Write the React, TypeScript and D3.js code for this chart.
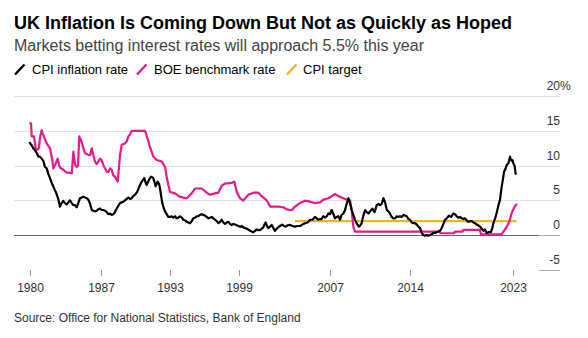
import React from 'react';
import * as d3 from 'd3';

const cpiYears = [
  1980.69, 1980.9, 1981.04, 1981.19, 1981.34, 1981.48, 1981.62, 1981.77, 1981.91, 1982.06,
  1982.21, 1982.35, 1982.5, 1982.65, 1982.79, 1982.94, 1983.08, 1983.22, 1983.37, 1983.52,
  1983.66, 1983.81, 1983.96, 1984.1, 1984.25, 1984.4, 1984.54, 1984.69, 1984.83, 1984.97,
  1985.12, 1985.27, 1985.41, 1985.56, 1985.71, 1985.85, 1986.0, 1986.15, 1986.29, 1986.43,
  1986.58, 1986.72, 1986.87, 1987.02, 1987.16, 1987.31, 1987.46, 1987.6, 1987.75, 1987.89,
  1988.03, 1988.18, 1988.33, 1988.47, 1988.62, 1988.77, 1988.91, 1989.06, 1989.21, 1989.35,
  1989.5, 1989.64, 1989.78, 1989.93, 1990.08, 1990.22, 1990.37, 1990.52, 1990.66, 1990.74,
  1990.85, 1990.95, 1991.09, 1991.24, 1991.33, 1991.45, 1991.53, 1991.64, 1991.74, 1991.91,
  1992.03, 1992.12, 1992.2, 1992.32, 1992.42, 1992.56, 1992.7, 1992.85, 1993.0, 1993.14,
  1993.28, 1993.43, 1993.58, 1993.72, 1993.87, 1994.02, 1994.16, 1994.31, 1994.45, 1994.6,
  1994.74, 1994.89, 1995.03, 1995.18, 1995.33, 1995.47, 1995.62, 1995.77, 1995.91, 1996.05,
  1996.2, 1996.34, 1996.49, 1996.64, 1996.78, 1996.93, 1997.08, 1997.22, 1997.37, 1997.51,
  1997.66, 1997.8, 1997.95, 1998.09, 1998.24, 1998.39, 1998.53, 1998.68, 1998.83, 1998.97,
  1999.11, 1999.26, 1999.4, 1999.55, 1999.7, 1999.84, 1999.99, 2000.13, 2000.28, 2000.43,
  2000.57, 2000.72, 2000.86, 2001.01, 2001.15, 2001.25, 2001.36, 2001.47, 2001.59, 2001.74,
  2001.89, 2002.03, 2002.17, 2002.32, 2002.46, 2002.61, 2002.81, 2002.96, 2003.11, 2003.27,
  2003.49, 2003.71, 2003.92, 2004.14, 2004.36, 2004.57, 2004.8, 2005.02, 2005.24, 2005.46,
  2005.67, 2005.82, 2005.96, 2006.11, 2006.25, 2006.4, 2006.55, 2006.7, 2006.84, 2006.99,
  2007.13, 2007.28, 2007.42, 2007.57, 2007.71, 2007.86, 2008.0, 2008.15, 2008.3, 2008.44,
  2008.59, 2008.73, 2008.88, 2009.02, 2009.17, 2009.34, 2009.52, 2009.64, 2009.75, 2009.9,
  2010.05, 2010.19, 2010.34, 2010.48, 2010.69, 2010.88, 2011.07, 2011.22, 2011.36, 2011.51,
  2011.65, 2011.8, 2011.95, 2012.09, 2012.23, 2012.38, 2012.52, 2012.67, 2012.82, 2012.96,
  2013.11, 2013.25, 2013.4, 2013.54, 2013.69, 2013.84, 2013.98, 2014.13, 2014.27, 2014.42,
  2014.57, 2014.71, 2014.86, 2015.0, 2015.14, 2015.29, 2015.43, 2015.58, 2015.73, 2015.87,
  2016.02, 2016.17, 2016.31, 2016.46, 2016.61, 2016.75, 2016.9, 2017.04, 2017.19, 2017.39,
  2017.57, 2017.77, 2017.91, 2018.06, 2018.2, 2018.35, 2018.5, 2018.64, 2018.79, 2018.94,
  2019.08, 2019.23, 2019.37, 2019.52, 2019.66, 2019.81, 2019.95, 2020.1, 2020.25, 2020.4,
  2020.54, 2020.69, 2020.83, 2021.04, 2021.16, 2021.27, 2021.42, 2021.56, 2021.7, 2021.85,
  2022.0, 2022.12, 2022.2, 2022.32, 2022.44, 2022.58, 2022.73, 2022.81, 2022.87, 2022.94,
  2023.02, 2023.12, 2023.23,
];
const cpiRates = [
  13.4, 12.9, 12.5, 12.2, 11.8, 11.3, 11.3, 11.0, 10.7, 9.8,
  9.6, 8.8, 8.2, 7.5, 7.0, 6.4, 5.9, 5.2, 4.1, 4.6,
  4.9, 4.6, 4.4, 4.7, 5.0, 4.6, 4.3, 4.3, 4.0, 4.6,
  5.3, 5.4, 5.5, 5.4, 5.3, 5.1, 4.5, 3.6, 3.5, 3.4,
  3.5, 3.7, 3.8, 3.6, 3.6, 3.5, 3.3, 3.0, 3.1, 2.9,
  3.0, 3.3, 3.8, 4.2, 4.6, 4.7, 4.8, 5.0, 5.2, 5.4,
  5.2, 5.3, 5.6, 5.8, 6.1, 6.6, 7.2, 7.7, 8.0, 8.2,
  7.6, 7.2, 7.7, 8.2, 8.4, 8.3, 8.2, 7.6, 7.0, 7.7,
  7.4, 6.7, 5.8, 4.6, 4.0, 3.4, 3.0, 2.6, 2.6, 2.7,
  2.5, 2.7, 2.4, 2.5, 2.7, 2.5, 2.2, 2.1, 1.9, 1.8,
  1.7, 2.0, 2.4, 2.5, 2.7, 2.7, 2.9, 3.0, 2.9, 2.8,
  2.6, 2.4, 2.5, 2.6, 2.4, 2.2, 2.0, 1.7, 1.9, 2.2,
  1.8, 1.6, 1.8, 1.9, 1.6, 1.45, 1.6, 1.5, 1.4, 1.3,
  1.2, 1.3, 1.1, 1.0, 0.9, 0.8, 0.6, 0.5, 0.4, 0.6,
  0.8, 0.7, 0.7, 0.9, 1.1, 1.5, 1.8, 1.3, 1.0, 1.2,
  1.45, 1.0, 0.6, 0.9, 1.1, 1.3, 1.5, 1.3, 1.2, 1.4,
  1.45, 1.3, 1.2, 1.3, 1.3, 1.5, 1.7, 1.8, 2.2, 2.2,
  2.6, 2.4, 2.2, 2.3, 2.3, 2.7, 2.5, 2.7, 3.1, 3.0,
  3.6, 3.0, 2.4, 2.6, 2.7, 2.2, 2.9, 3.1, 3.6, 4.5,
  5.3, 4.6, 3.6, 2.9, 2.2, 1.6, 1.2, 1.4, 1.7, 2.8,
  3.6, 3.3, 3.1, 3.4, 3.8, 3.3, 4.3, 4.5, 4.3, 4.5,
  5.3, 4.7, 3.6, 3.4, 3.1, 2.6, 2.4, 2.4, 2.7, 2.6,
  2.7, 2.6, 2.9, 2.8, 2.7, 2.3, 2.2, 1.8, 1.7, 1.7,
  1.5, 1.2, 1.0, 0.3, 0.0, -0.1, 0.0, -0.1, 0.0, 0.1,
  0.3, 0.3, 0.4, 0.5, 0.6, 1.0, 1.6, 2.2, 2.4, 2.8,
  2.6, 3.1, 3.0, 2.7, 2.5, 2.6, 2.4, 2.3, 2.4, 2.1,
  1.9, 2.0, 2.0, 1.8, 1.7, 1.5, 1.4, 1.2, 0.9, 0.6,
  0.8, 0.3, 0.4, 0.4, 0.9, 1.7, 2.4, 3.2, 4.2, 5.1,
  7.0, 8.2, 9.1, 9.5, 10.1, 10.3, 11.3, 10.8, 10.7, 10.8,
  10.3, 10.0, 8.7,
];

const boeYears = [
  1980.69, 1980.84, 1980.9, 1981.1, 1981.25, 1981.42, 1981.54, 1981.62, 1981.77, 1981.86,
  1981.96, 1982.21, 1982.37, 1982.5, 1982.7, 1982.79, 1983.0, 1983.17, 1983.28, 1983.37,
  1983.66, 1983.96, 1984.1, 1984.4, 1984.54, 1984.69, 1984.83, 1984.95, 1985.06, 1985.27,
  1985.43, 1985.56, 1985.78, 1986.0, 1986.15, 1986.29, 1986.43, 1986.58, 1986.72, 1986.87,
  1987.02, 1987.16, 1987.31, 1987.46, 1987.6, 1987.75, 1987.89, 1988.03, 1988.18, 1988.41,
  1988.52, 1988.62, 1988.77, 1989.06, 1989.21, 1989.35, 1989.5, 1989.64, 1990.81, 1990.95,
  1991.24, 1991.53, 1991.83, 1992.27, 1992.56, 1992.7, 1992.85, 1993.0, 1993.43, 1993.87,
  1994.45, 1994.65, 1994.89, 1995.18, 1995.77, 1996.2, 1996.49, 1996.93, 1997.22, 1997.51,
  1997.8, 1998.39, 1998.62, 1998.83, 1999.11, 1999.4, 1999.84, 2000.28, 2000.72, 2001.01,
  2001.45, 2001.74, 2002.46, 2002.9, 2003.2, 2003.49, 2003.66, 2003.92, 2004.36, 2004.8,
  2005.24, 2005.67, 2006.11, 2006.4, 2006.84, 2007.13, 2007.42, 2007.71, 2008.15, 2008.44,
  2008.73, 2008.88, 2009.02, 2009.17, 2016.58, 2016.64, 2017.84, 2017.9, 2018.58, 2018.64,
  2020.1, 2020.18, 2021.95, 2022.05, 2022.15, 2022.25, 2022.35, 2022.46, 2022.6, 2022.72,
  2022.84, 2022.96, 2023.1, 2023.22, 2023.3,
];
const boeRates = [
  16.1, 16.1, 14.2, 14.2, 12.4, 12.3, 12.6, 14.0, 15.1, 14.6,
  14.2, 13.2, 12.8, 12.5, 10.8, 9.6, 10.3, 11.0, 10.2, 9.7,
  9.4, 9.0, 9.0, 8.9, 12.0, 10.2, 9.8, 10.0, 14.2, 13.4,
  12.4, 11.8, 11.6, 11.5, 12.5, 11.5, 10.6, 10.2, 10.6, 11.0,
  10.8, 10.1, 9.6, 9.1, 9.1, 9.6, 9.4, 8.6, 8.4, 7.7,
  9.5, 11.5, 13.0, 13.2, 13.5, 14.2, 14.5, 15.0, 15.0, 14.3,
  12.7, 11.3, 10.8, 10.6, 9.8, 8.4, 7.2, 6.2, 6.0, 5.5,
  5.3, 5.6, 6.0, 6.7, 6.7, 6.1, 5.8, 6.0, 6.1, 7.1,
  7.4, 7.5, 7.7, 6.2, 5.3, 4.95, 5.8, 6.1, 6.1, 5.6,
  5.0, 4.1, 4.1, 4.0, 3.7, 3.6, 3.6, 4.1, 4.6, 4.95,
  4.8, 4.6, 4.7, 5.1, 5.3, 5.6, 5.9, 5.6, 5.3, 5.1,
  5.0, 3.6, 1.2, 0.5, 0.5, 0.25, 0.25, 0.5, 0.5, 0.75,
  0.75, 0.1, 0.1, 0.25, 0.5, 0.75, 1.0, 1.25, 1.75, 2.25,
  3.0, 3.5, 4.0, 4.25, 4.5,
];

const targetYears = [2003.92, 2023.3];
const targetRates = [2, 2];

const xTickYears = [1980.75, 1987, 1993, 1999, 2007, 2014, 2023];
const xTickLabels = ['1980', '1987', '1993', '1999', '2007', '2014', '2023'];
const yTicks = [-5, 0, 5, 10, 15, 20];

const legendNames = ['CPI inflation rate', 'BOE benchmark rate', 'CPI target'];
const legendColors = ['#000000', '#e8198b', '#f2b51d'];

const FONT = '"Liberation Sans", Arial, Helvetica, sans-serif';

export default function App() {
  const W = 588;
  const H = 338;
  const x = d3.scaleLinear().domain([1980.75, 2023.3]).range([30, 516.6]);
  const y = d3.scaleLinear().domain([-5, 20]).range([269.7, 96.2]);

  const line = d3
    .line<[number, number]>()
    .x((d) => x(d[0]))
    .y((d) => y(d[1]));

  const cpiPath = line(cpiYears.map((t, i) => [t, cpiRates[i]] as [number, number])) || '';
  const boePath = line(boeYears.map((t, i) => [t, boeRates[i]] as [number, number])) || '';
  const tgtPath = line(targetYears.map((t, i) => [t, targetRates[i]] as [number, number])) || '';

  const gridLeft = 14;
  const gridRight = 560;
  const labelSegLeft = 539;

  const legendIconX = [15, 137, 287];
  const legendTextX = [32, 154, 303];

  return (
    <svg
      width={W}
      height={H}
      viewBox={`0 0 ${W} ${H}`}
      style={{ position: 'absolute', left: 0, top: 0, background: '#fff' }}
      fontFamily={FONT}
    >
      <rect x={0} y={0} width={W} height={H} fill="#fff" />
      <text x={14} y={29} fontSize={18} fontWeight="bold" fill="#000">
        UK Inflation Is Coming Down But Not as Quickly as Hoped
      </text>
      <text x={14} y={51} fontSize={16} fill="#444">
        Markets betting interest rates will approach 5.5% this year
      </text>

      {legendNames.map((n, i) => (
        <g key={n}>
          <line
            x1={legendIconX[i]}
            y1={74.5}
            x2={legendIconX[i] + 9.5}
            y2={64.5}
            stroke={legendColors[i]}
            strokeWidth={2.4}
          />
          <text x={legendTextX[i]} y={74} fontSize={13} fill="#000">
            {n}
          </text>
        </g>
      ))}

      {yTicks.map((v) => {
        const yy = Math.round(y(v)) + 0.5;
        const full = v > 0;
        return (
          <g key={v}>
            {full && (
              <line x1={gridLeft} x2={gridRight} y1={yy} y2={yy} stroke="#e3e3e3" strokeWidth={1} />
            )}
            {!full && (
              <line x1={labelSegLeft} x2={gridRight} y1={yy} y2={yy} stroke="#b0b0b0" strokeWidth={1} />
            )}
            <text x={gridRight} y={yy - 7} fontSize={12} fill="#333" textAnchor="end">
              {v}
            </text>
            {v === 20 && (
              <text x={gridRight} y={yy - 7} fontSize={12} fill="#333">
                %
              </text>
            )}
          </g>
        );
      })}

      <line
        x1={gridLeft}
        x2={labelSegLeft}
        y1={Math.round(y(0)) + 0.5}
        y2={Math.round(y(0)) + 0.5}
        stroke="#666"
        strokeWidth={1}
      />

      {xTickYears.map((t, i) => {
        const xx = Math.round(x(t)) + 0.5;
        return (
          <g key={xTickLabels[i]}>
            <line x1={xx} x2={xx} y1={270} y2={276} stroke="#999" strokeWidth={1} />
            <text x={xx} y={291.5} fontSize={12} fill="#333" textAnchor="middle">
              {xTickLabels[i]}
            </text>
          </g>
        );
      })}

      <path d={tgtPath} fill="none" stroke={legendColors[2]} strokeWidth={2.2} />
      <path d={boePath} fill="none" stroke={legendColors[1]} strokeWidth={2.2} strokeLinejoin="round" />
      <path d={cpiPath} fill="none" stroke={legendColors[0]} strokeWidth={2.2} strokeLinejoin="round" />

      <text x={14} y={322} fontSize={12} fill="#333">
        Source: Office for National Statistics, Bank of England
      </text>
    </svg>
  );
}
